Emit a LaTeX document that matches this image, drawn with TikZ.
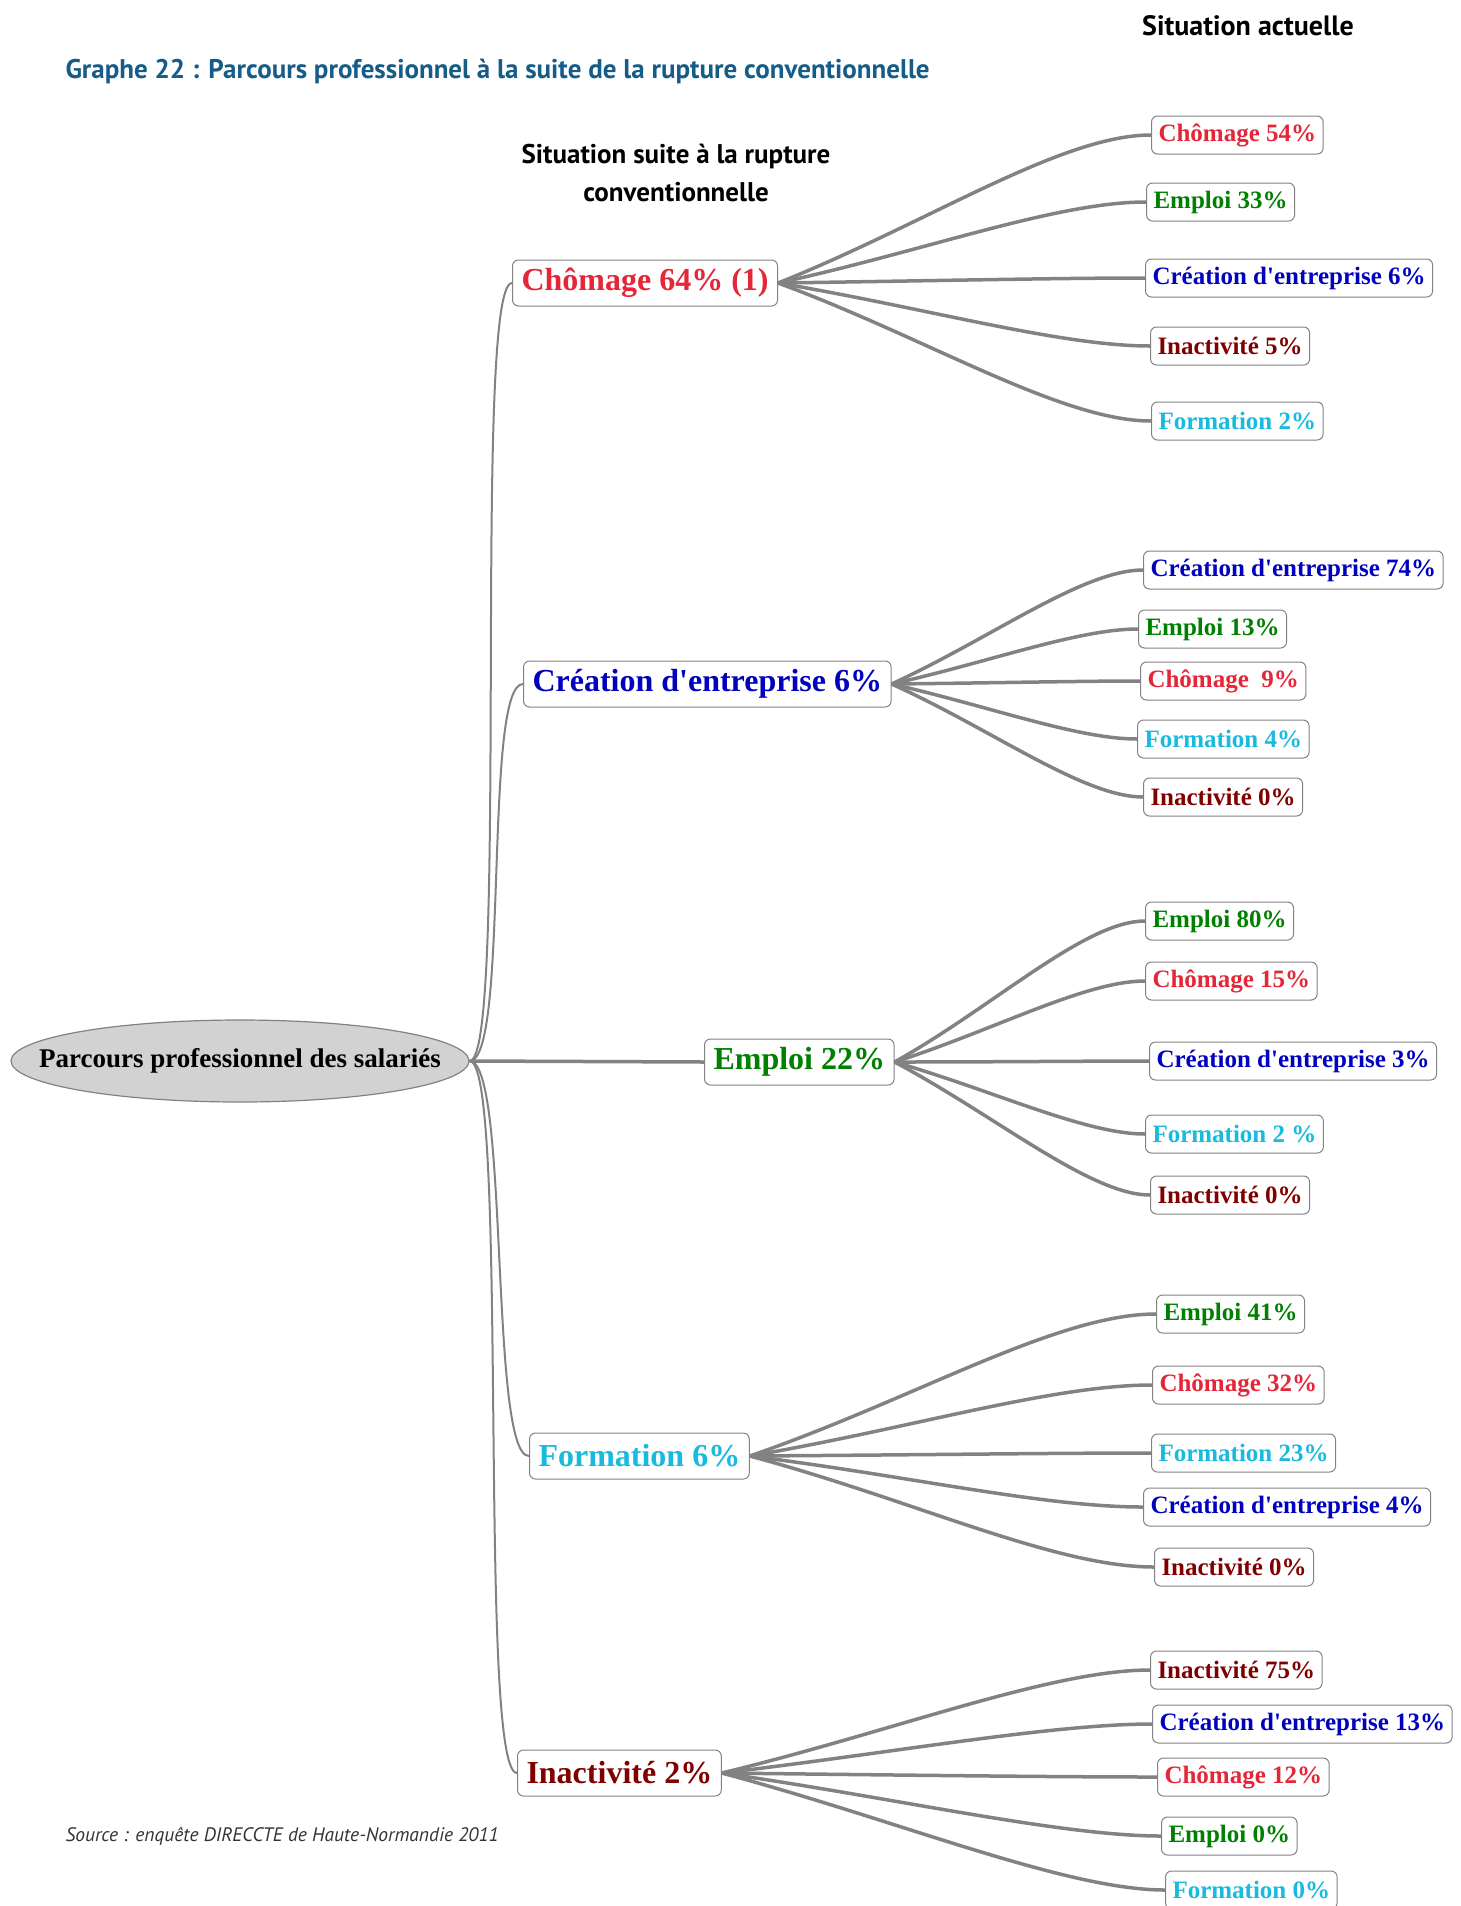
\documentclass[tikz,border=0pt]{standalone}
\usepackage{fontspec}
\setmainfont{Liberation Serif}
\newfontfamily\titrefont{PT Sans}
\usetikzlibrary{shapes.geometric}
\definecolor{chomagec}{RGB}{228,38,56}
\definecolor{emploic}{RGB}{0,128,0}
\definecolor{creationc}{RGB}{0,0,190}
\definecolor{inactivitec}{RGB}{128,0,0}
\definecolor{formationc}{RGB}{24,186,222}
\definecolor{titrec}{RGB}{22,92,136}
\definecolor{lienc}{RGB}{130,130,130}
\begin{document}
\begin{tikzpicture}[x=1pt,y=-1pt,
  racine/.style={ellipse,draw=lienc,line width=1.2pt,fill=gray!35,inner sep=0pt,minimum width=458pt,minimum height=82pt},
  niveau/.style={draw=lienc,line width=1pt,rounded corners=6pt,fill=white,minimum height=46pt,inner xsep=9pt,font=\fontsize{32}{36}\selectfont\bfseries,anchor=west},
  feuille/.style={draw=lienc,line width=1pt,rounded corners=6pt,fill=white,minimum height=38pt,inner xsep=7pt,font=\fontsize{25}{28}\selectfont\bfseries,anchor=west},
  lien/.style={draw=lienc,line width=3.5pt},
  tige/.style={draw=lienc,line width=2pt}]
\useasboundingbox (0,0) rectangle (1460,1906);
% titres
\node[font=\titrefont\bfseries\fontsize{28}{30}\selectfont] (actuelle) at (1248,26) {Situation actuelle};
\node[anchor=west,text=titrec,font=\titrefont\bfseries\fontsize{27}{30}\selectfont] (titre) at (62,71) {Graphe 22 : Parcours professionnel à la suite de la rupture conventionnelle};
\node[align=center,font=\titrefont\bfseries\fontsize{27}{38}\selectfont] (suite) at (676,173) {Situation suite à la rupture\\conventionnelle};
\node[anchor=west,text=black!80,font=\titrefont\itshape\fontsize{19.5}{22}\selectfont] (source) at (62,1836) {Source : enquête DIRECCTE de Haute-Normandie 2011};
% racine et premier niveau
\node[racine,label={[font=\fontsize{27}{30}\selectfont\bfseries]center:Parcours professionnel des salariés}] (racine) at (240,1061) {};
\node[niveau,text=chomagec] (chomage) at (512,283) {Chômage 64\% (1)};
\node[niveau,text=creationc] (creation) at (523,684) {Création d\textquotesingle entreprise 6\%};
\node[niveau,text=emploic] (emploi) at (704,1062) {Emploi 22\%};
\node[niveau,text=formationc] (formation) at (529,1456) {Formation 6\%};
\node[niveau,text=inactivitec] (inactivite) at (517,1773) {Inactivité 2\%};
% situation actuelle
\node[feuille,text=chomagec] (chomage1) at (1151,135) {Chômage 54\%};
\node[feuille,text=emploic] (chomage2) at (1146,202) {Emploi 33\%};
\node[feuille,text=creationc] (chomage3) at (1145,278) {Création d\textquotesingle entreprise 6\%};
\node[feuille,text=inactivitec] (chomage4) at (1150,346) {Inactivité 5\%};
\node[feuille,text=formationc] (chomage5) at (1151,421) {Formation 2\%};
\node[feuille,text=creationc] (creation1) at (1143,570) {Création d\textquotesingle entreprise 74\%};
\node[feuille,text=emploic] (creation2) at (1138,629) {Emploi 13\%};
\node[feuille,text=chomagec] (creation3) at (1140,681) {Chômage~ 9\%};
\node[feuille,text=formationc] (creation4) at (1137,739) {Formation 4\%};
\node[feuille,text=inactivitec] (creation5) at (1143,797) {Inactivité 0\%};
\node[feuille,text=emploic] (emploi1) at (1145,921) {Emploi 80\%};
\node[feuille,text=chomagec] (emploi2) at (1145,981) {Chômage 15\%};
\node[feuille,text=creationc] (emploi3) at (1149,1061) {Création d\textquotesingle entreprise 3\%};
\node[feuille,text=formationc] (emploi4) at (1145,1134) {Formation 2 \%};
\node[feuille,text=inactivitec] (emploi5) at (1150,1195) {Inactivité 0\%};
\node[feuille,text=emploic] (formation1) at (1156,1314) {Emploi 41\%};
\node[feuille,text=chomagec] (formation2) at (1152,1385) {Chômage 32\%};
\node[feuille,text=formationc] (formation3) at (1151,1453) {Formation 23\%};
\node[feuille,text=creationc] (formation4) at (1143,1507) {Création d\textquotesingle entreprise 4\%};
\node[feuille,text=inactivitec] (formation5) at (1154,1567) {Inactivité 0\%};
\node[feuille,text=inactivitec] (inactivite1) at (1150,1670) {Inactivité 75\%};
\node[feuille,text=creationc] (inactivite2) at (1152,1724) {Création d\textquotesingle entreprise 13\%};
\node[feuille,text=chomagec] (inactivite3) at (1157,1777) {Chômage 12\%};
\node[feuille,text=emploic] (inactivite4) at (1161,1836) {Emploi 0\%};
\node[feuille,text=formationc] (inactivite5) at (1165,1890) {Formation 0\%};
% liens
\draw[tige] (racine.east) .. controls +(40,0) and +(-40,0) .. (chomage.west);
\draw[tige] (racine.east) .. controls +(40,0) and +(-40,0) .. (creation.west);
\draw[lien] (racine.east) -- (emploi.west);
\draw[tige] (racine.east) .. controls +(40,0) and +(-40,0) .. (formation.west);
\draw[tige] (racine.east) .. controls +(40,0) and +(-40,0) .. (inactivite.west);
\draw[lien] (chomage.east) .. controls +(150,-60) and +(-90,0) .. (chomage1.west);
\draw[lien] (chomage.east) .. controls +(147,-32) and +(-90,0) .. (chomage2.west);
\draw[lien] (chomage.east) .. controls +(146,-2) and +(-90,0) .. (chomage3.west);
\draw[lien] (chomage.east) .. controls +(148,25) and +(-90,0) .. (chomage4.west);
\draw[lien] (chomage.east) .. controls +(149,55) and +(-90,0) .. (chomage5.west);
\draw[lien] (creation.east) .. controls +(100,-46) and +(-60,0) .. (creation1.west);
\draw[lien] (creation.east) .. controls +(98,-22) and +(-60,0) .. (creation2.west);
\draw[lien] (creation.east) .. controls +(98,-1) and +(-60,0) .. (creation3.west);
\draw[lien] (creation.east) .. controls +(97,22) and +(-60,0) .. (creation4.west);
\draw[lien] (creation.east) .. controls +(100,45) and +(-60,0) .. (creation5.west);
\draw[lien] (emploi.east) .. controls +(100,-56) and +(-60,0) .. (emploi1.west);
\draw[lien] (emploi.east) .. controls +(100,-32) and +(-60,0) .. (emploi2.west);
\draw[lien] (emploi.east) .. controls +(100,0) and +(-60,0) .. (emploi3.west);
\draw[lien] (emploi.east) .. controls +(100,29) and +(-60,0) .. (emploi4.west);
\draw[lien] (emploi.east) .. controls +(100,53) and +(-60,0) .. (emploi5.west);
\draw[lien] (formation.east) .. controls +(165,-57) and +(-100,0) .. (formation1.west);
\draw[lien] (formation.east) .. controls +(163,-28) and +(-100,0) .. (formation2.west);
\draw[lien] (formation.east) .. controls +(162,-1) and +(-100,0) .. (formation3.west);
\draw[lien] (formation.east) .. controls +(160,20) and +(-100,0) .. (formation4.west);
\draw[lien] (formation.east) .. controls +(164,44) and +(-100,0) .. (formation5.west);
\draw[lien] (inactivite.east) .. controls +(170,-41) and +(-100,0) .. (inactivite1.west);
\draw[lien] (inactivite.east) .. controls +(170,-20) and +(-100,0) .. (inactivite2.west);
\draw[lien] (inactivite.east) .. controls +(172,2) and +(-100,0) .. (inactivite3.west);
\draw[lien] (inactivite.east) .. controls +(174,25) and +(-100,0) .. (inactivite4.west);
\draw[lien] (inactivite.east) .. controls +(176,47) and +(-100,0) .. (inactivite5.west);
\end{tikzpicture}
\end{document}
